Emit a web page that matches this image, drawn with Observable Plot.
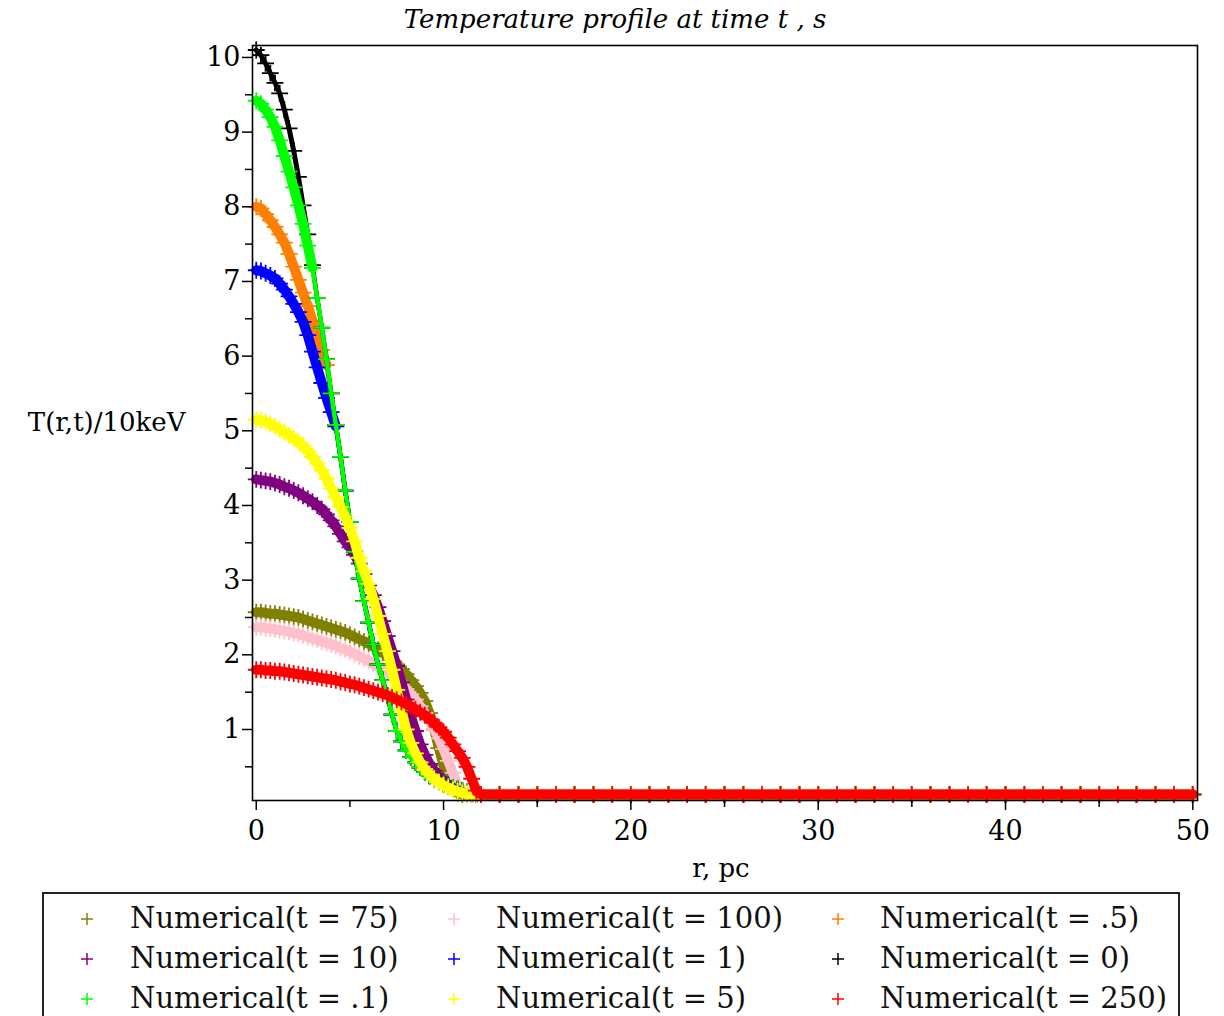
<!DOCTYPE html>
<html>
<head>
<meta charset="utf-8">
<script src="https://cdn.jsdelivr.net/npm/d3@7"></script>
<script src="https://cdn.jsdelivr.net/npm/@observablehq/plot@0.6"></script>
<style>
  html, body { margin: 0; padding: 0; background: #fff; overflow: hidden; }
  #wrap { position: relative; width: 1224px; height: 1016px; }
  #legend { position: absolute; left: 42px; top: 892px; width: 1134px; height: 140px;
            border: 2px solid #222; box-sizing: content-box; font-family: "DejaVu Serif"; font-size: 29px; color: #111; }
  .item { position: absolute; height: 40px; line-height: 40px; white-space: pre; }
  .item svg { position: absolute; top: 14px; }
</style>
</head>
<body>
<div id="wrap">
  <div id="chart"></div>
  <div id="legend"></div>
</div>
<script>
// radial grid (pc)
const radius = [0,0.25,0.5,0.75,1,1.25,1.5,1.75,2,2.25,2.5,2.75,3,3.25,3.5,3.75,4,4.25,4.5,4.75,5,5.25,5.5,5.75,6,6.25,6.5,6.75,7,7.25,7.5,7.75,8,8.25,8.5,8.75,9,9.25,9.5,9.75,10,10.25,10.5,10.75,11,11.25,11.5,11.75,12];
const tailRadius = [13,14,15,16,17,18,19,20,21,22,23,24,25,26,27,28,29,30,31,32,33,34,35,36,37,38,39,40,41,42,43,44,45,46,47,48,49,50];
const tailTemp = [0.13,0.13,0.13,0.13,0.13,0.13,0.13,0.13,0.13,0.13,0.13,0.13,0.13,0.13,0.13,0.13,0.13,0.13,0.13,0.13,0.13,0.13,0.13,0.13,0.13,0.13,0.13,0.13,0.13,0.13,0.13,0.13,0.13,0.13,0.13,0.13,0.13,0.13];

// T(r,t)/10keV values
const temp75  = [2.57,2.57,2.56,2.55,2.55,2.54,2.53,2.52,2.51,2.5, 2.48,2.46,2.44,2.42,2.4,2.38,2.36,2.34,2.32,2.3, 2.27,2.24,2.21,2.18,2.15,2.11,2.07,2.03,1.98,1.93, 1.87,1.81,1.74,1.66,1.58,1.49,1.38,1.22,1.0,0.75, 0.52,0.33,0.2,0.15,0.13,0.13,0.13,0.13,0.13];
const temp100 = [2.37,2.37,2.36,2.35,2.34,2.33,2.32,2.31,2.29,2.28, 2.26,2.24,2.22,2.2,2.18,2.16,2.14,2.12,2.09,2.07, 2.04,2.01,1.98,1.95,1.92,1.88,1.84,1.8,1.76,1.71, 1.66,1.6,1.54,1.47,1.4,1.31,1.22,1.12,1.0,0.88, 0.74,0.58,0.42,0.25,0.15,0.13,0.13,0.13,0.13];
const temp05  = [8.0,7.98,7.9,7.82,7.73,7.63,7.52,7.37,7.2,7.02, 6.85,6.67,6.48,6.28,6.08,5.88, 5.5,5.08,4.65,4.2, 3.78,3.38,3.02,2.72,2.43,2.14,1.87,1.66,1.45,1.2, 0.98,0.84,0.72,0.63,0.56,0.49,0.43,0.38,0.34,0.3, 0.27,0.24,0.22,0.2,0.18,0.16,0.15,0.14,0.13];
const temp10  = [4.35,4.34,4.33,4.32,4.3,4.28,4.25,4.23,4.2,4.17, 4.13,4.09,4.05,4.0,3.95,3.88,3.8,3.72,3.62,3.52, 3.44,3.34,3.22,3.08,2.93,2.8,2.64,2.45,2.25,2.05, 1.85,1.63,1.4,1.18,0.98,0.8,0.66,0.54,0.45,0.37, 0.31,0.26,0.22,0.19,0.16,0.14,0.13,0.13,0.13];
const temp1   = [7.15,7.14,7.11,7.08,7.04,6.97,6.89,6.8,6.7,6.59, 6.46,6.28,6.06,5.85,5.64,5.44,5.25,5.06, 4.65,4.2, 3.78,3.38,3.02,2.72,2.43,2.14,1.87,1.66,1.45,1.2, 0.98,0.84,0.72,0.63,0.56,0.49,0.43,0.38,0.34,0.3, 0.27,0.24,0.22,0.2,0.18,0.16,0.15,0.14,0.13];
const temp0   = [10.1,10.03,9.92,9.79,9.66,9.52,9.3,9.05,8.75,8.4, 8.02,7.63,7.22,6.78,6.38,5.96,5.5,5.08,4.65,4.2, 3.78,3.38,3.02,2.72,2.43,2.14,1.87,1.66,1.45,1.2, 0.98,0.84,0.72,0.63,0.56,0.49,0.43,0.38,0.34,0.3, 0.27,0.24,0.22,0.2,0.18,0.16,0.15,0.14,0.13];
const temp01  = [9.42,9.38,9.3,9.2,9.07,8.89,8.68,8.47,8.26,8.02, 7.77,7.48,7.18,6.78,6.38,5.96,5.5,5.08,4.65,4.2, 3.78,3.38,3.02,2.72,2.43,2.14,1.87,1.66,1.45,1.2, 0.98,0.84,0.72,0.63,0.56,0.49,0.43,0.38,0.34,0.3, 0.27,0.24,0.22,0.2,0.18,0.16,0.15,0.14,0.13];
const temp5   = [5.15,5.14,5.12,5.09,5.06,5.02,4.98,4.94,4.9,4.85, 4.8,4.73,4.65,4.56,4.47,4.36,4.23,4.11,3.98,3.85, 3.7,3.52,3.3,3.12,2.95,2.75,2.52,2.28,2.05,1.8, 1.53,1.26,1.0,0.82,0.68,0.56,0.47,0.4,0.34,0.29, 0.25,0.22,0.19,0.17,0.15,0.14,0.13,0.13,0.13];
const temp250 = [1.8,1.8,1.79,1.79,1.78,1.78,1.77,1.76,1.75,1.74, 1.73,1.72,1.71,1.7,1.69,1.68,1.67,1.66,1.64,1.63, 1.61,1.6,1.58,1.56,1.54,1.52,1.5,1.48,1.46,1.43, 1.4,1.37,1.34,1.31,1.27,1.23,1.19,1.14,1.09,1.03, 0.97,0.89,0.8,0.71,0.62,0.5,0.34,0.18,0.13];

const labels = ["Numerical(t = 75)","Numerical(t = 100)","Numerical(t = .5)","Numerical(t = 10)","Numerical(t = 1)","Numerical(t = 0)","Numerical(t = .1)","Numerical(t = 5)","Numerical(t = 250)"];
const colors = ["#808000","#ffc0cb","#ff8000","#800080","#0000ff","#000000","#00ff00","#ffff00","#ff0000"];
const temps  = [temp75,temp100,temp05,temp10,temp1,temp0,temp01,temp5,temp250];
// radius where each early profile joins the common steep front (thick band before, narrower after)
const joinRadius = [60,60,3.75,60,4.25,2.75,3.0,60,60];
const headWidth = [10,10,10,10,10,5,10,10,10];

const yMajor = [1,2,3,4,5,6,7,8,9,10];
const yMinor = [0.5,1.5,2.5,3.5,4.5,5.5,6.5,7.5,8.5,9.5];
const xMajor = [0,10,20,30,40,50];
const xMinor = [5,15,25,35,45];

const marks = [];
labels.forEach((lab, k) => {
  const pts = radius.map((r, i) => ({r, T: temps[k][i]}))
    .concat(tailRadius.map((r, i) => ({r, T: tailTemp[i]})));
  const head = pts.filter(d => d.r <= joinRadius[k]);
  const rest = pts.filter(d => d.r >= joinRadius[k]);
  marks.push(Plot.line(head, {x: "r", y: "T", stroke: colors[k], strokeWidth: headWidth[k], strokeLinejoin: "round", strokeLinecap: "round"}));
  if (rest.length > 1) marks.push(Plot.line(rest, {x: "r", y: "T", stroke: colors[k], strokeWidth: 4.5, strokeLinejoin: "round", strokeLinecap: "round"}));
  marks.push(Plot.dot(pts, {x: "r", y: "T", symbol: "plus", r: 5.5, stroke: colors[k], strokeWidth: 1.8}));
});

marks.push(
  Plot.axisY({ticks: yMajor, tickSize: 10, tickPadding: 2, label: null, strokeWidth: 1.5}),
  Plot.axisY({ticks: yMinor, tickSize: 7, text: null, label: null, strokeWidth: 1.5}),
  Plot.axisX({ticks: xMajor, tickSize: 10, tickPadding: 10, label: null, strokeWidth: 1.5}),
  Plot.axisX({ticks: xMinor, tickSize: 7, text: null, label: null, strokeWidth: 1.5}),
  Plot.frame({stroke: "black", strokeWidth: 1.6}),
  Plot.text(["Temperature profile at time t , s"], {text: d => d, frameAnchor: "top", dy: -36, dx: -110, fontStyle: "italic", fontSize: 26}),
  Plot.text(["T(r,t)/10keV"], {text: d => d, frameAnchor: "left", dx: -67, textAnchor: "end", fontSize: 26}),
  Plot.text(["r, pc"], {text: d => d, frameAnchor: "bottom", dy: 76, dx: -4, fontSize: 26})
);

const chart = Plot.plot({
  width: 1224,
  height: 880,
  marginLeft: 252,
  marginRight: 27,
  marginTop: 45,
  marginBottom: 80,
  x: {domain: [-0.2, 50.25]},
  y: {domain: [0.049, 10.16]},
  style: {fontFamily: "DejaVu Serif", fontSize: "27px", color: "black", background: "white", overflow: "visible"},
  marks
});
document.getElementById("chart").appendChild(chart);

// legend (3 columns, row-major)
const legend = document.getElementById("legend");
const colX = [43, 410, 794];
const textX = [86, 452, 836];
labels.forEach((lab, k) => {
  const row = Math.floor(k / 3), col = k % 3;
  const el = document.createElement("div");
  el.className = "item";
  el.style.left = (colX[col] - 7) + "px";
  el.style.top = (4 + row * 40) + "px";
  el.innerHTML = `<svg width="14" height="14" style="left:0"><line x1="1" y1="7" x2="13" y2="7" stroke="${colors[k]}" stroke-width="1.5"/><line x1="7" y1="1" x2="7" y2="13" stroke="${colors[k]}" stroke-width="1.5"/></svg><span style="position:absolute;left:${textX[col]-colX[col]+7}px">${lab}</span>`;
  legend.appendChild(el);
});
</script>
</body>
</html>
